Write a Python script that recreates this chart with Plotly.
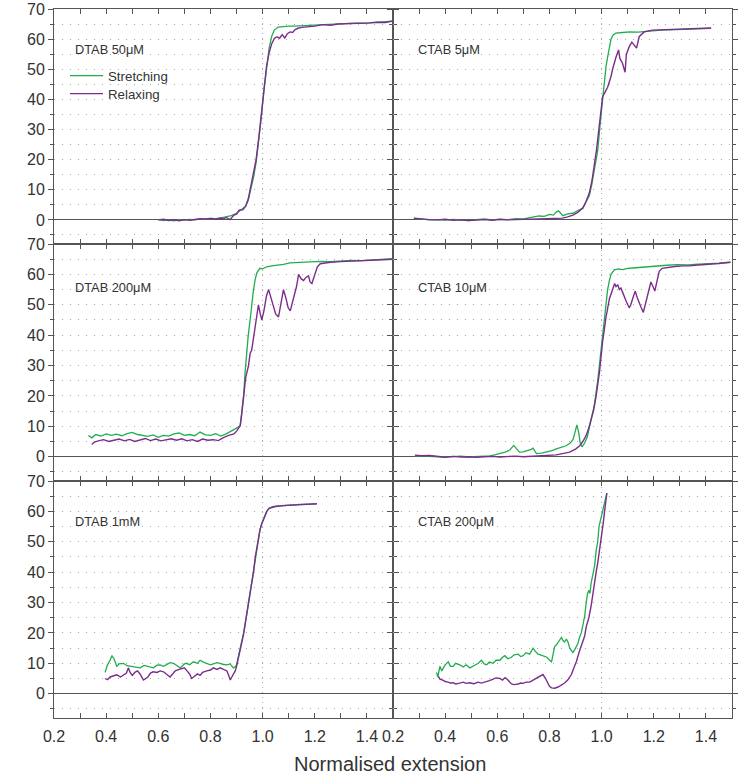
import plotly.graph_objects as go
from plotly.subplots import make_subplots

# ---------------- data ----------------
panel_labels = ["DTAB 50μM", "CTAB 5μM", "DTAB 200μM", "CTAB 10μM", "DTAB 1mM", "CTAB 200μM"]
series_names = ["Stretching", "Relaxing"]
x_tick_vals = [0.2, 0.4, 0.6, 0.8, 1.0, 1.2, 1.4]
x_tick_text = ["0.2", "0.4", "0.6", "0.8", "1.0", "1.2", "1.4"]
x_minor_vals = [0.3, 0.5, 0.7, 0.9, 1.1, 1.3, 1.5]
y_tick_vals = [0, 10, 20, 30, 40, 50, 60, 70]
y_tick_text = ["0", "10", "20", "30", "40", "50", "60", "70"]
y_minor_vals = [-5, 5, 15, 25, 35, 45, 55, 65]
x_title = "Normalised extension"

# DTAB 50 uM
dtab50_str_x = [0.60, 0.62, 0.64, 0.66, 0.68, 0.70, 0.72, 0.74, 0.76, 0.78,
                0.80, 0.82, 0.84, 0.86, 0.88, 0.90, 0.92, 0.935, 0.945, 0.955,
                0.965, 0.975, 0.985, 0.995, 1.005, 1.015, 1.025, 1.035, 1.045, 1.06,
                1.08, 1.10, 1.12, 1.14, 1.16, 1.18, 1.21, 1.24, 1.27, 1.30,
                1.33, 1.36, 1.39, 1.42, 1.45, 1.48, 1.50]
dtab50_str_y = [0.1, -0.2, 0.0, -0.3, 0.1, -0.1, 0.2, 0.0, 0.3, 0.2,
                0.5, 0.4, 0.7, 1.0, 1.4, 2.2, 3.4, 4.5, 6.5, 10,
                14, 19, 26, 34, 43, 51, 57, 61, 63.0, 64.0,
                64.2, 64.3, 64.3, 64.4, 64.4, 64.5, 64.6, 64.9, 65.1, 65.0,
                65.2, 65.3, 65.2, 65.5, 65.6, 65.7, 66.0]
dtab50_rel_x = [0.60, 0.62, 0.64, 0.66, 0.68, 0.70, 0.72, 0.74, 0.76, 0.78,
                0.80, 0.82, 0.84, 0.85, 0.86, 0.875, 0.89, 0.90, 0.91, 0.925,
                0.935, 0.945, 0.955, 0.965, 0.975, 0.985, 0.995, 1.005, 1.015, 1.025,
                1.035, 1.045, 1.055, 1.065, 1.075, 1.085, 1.095, 1.105, 1.115, 1.125,
                1.135, 1.15, 1.17, 1.20, 1.23, 1.26, 1.29, 1.32, 1.35, 1.38,
                1.41, 1.44, 1.47, 1.50]
dtab50_rel_y = [0.0, 0.2, -0.2, 0.0, -0.3, 0.1, -0.1, 0.2, 0.4, 0.3,
                0.5, 0.2, 0.6, 0.3, 0.8, 0.1, 1.6, 1.9, 3.2, 3.4,
                4.6, 7, 11, 15, 20, 27, 35, 44, 51, 55.5,
                58.5, 60.2, 60.8, 60.3, 61.5, 60.4, 61.8, 62.4, 62.2, 63.2,
                63.6, 63.9, 64.0, 64.3, 64.8, 64.6, 65.0, 65.1, 65.0, 65.3,
                65.4, 65.6, 65.5, 66.0]

# CTAB 5 uM
ctab5_str_x = [0.28, 0.31, 0.34, 0.37, 0.40, 0.43, 0.46, 0.49, 0.52, 0.55,
               0.58, 0.61, 0.64, 0.67, 0.70, 0.72, 0.74, 0.76, 0.78, 0.80,
               0.815, 0.826, 0.835, 0.851, 0.87, 0.89, 0.91, 0.928, 0.94, 0.953,
               0.963, 0.972, 0.985, 0.998, 1.005, 1.011, 1.017, 1.023, 1.03, 1.036,
               1.045, 1.055, 1.08, 1.11, 1.14, 1.17, 1.20, 1.23, 1.26, 1.29,
               1.32, 1.35, 1.38, 1.41, 1.42]
ctab5_str_y = [0.5, 0.2, 0.0, 0.1, -0.1, 0.2, 0.0, -0.2, 0.1, 0.3,
               0.0, 0.2, 0.1, 0.4, 0.3, 0.6, 0.9, 1.3, 1.2, 1.8,
               1.6, 2.6, 3.0, 1.4, 2.0, 2.2, 3.2, 3.8, 6, 8,
               12, 16, 23, 35, 41, 47, 51, 54, 57, 60,
               61.5, 62, 62.2, 62.4, 62.3, 62.6, 62.8, 63.0, 63.1, 63.2,
               63.3, 63.4, 63.5, 63.6, 63.6]
ctab5_rel_x = [0.28, 0.31, 0.34, 0.37, 0.40, 0.43, 0.46, 0.49, 0.52, 0.55,
               0.58, 0.61, 0.64, 0.67, 0.70, 0.73, 0.76, 0.79, 0.82, 0.85,
               0.87, 0.89, 0.91, 0.928, 0.94, 0.953, 0.963, 0.972, 0.98, 0.988,
               0.995, 1.004, 1.011, 1.023, 1.036, 1.042, 1.055, 1.065, 1.07, 1.08,
               1.09, 1.095, 1.106, 1.116, 1.125, 1.134, 1.144, 1.163, 1.195, 1.23,
               1.26, 1.29, 1.32, 1.35, 1.38, 1.41, 1.42]
ctab5_rel_y = [0.6, 0.3, 0.1, 0.0, 0.2, -0.1, 0.0, -0.2, 0.0, 0.1,
               -0.1, 0.2, 0.0, 0.1, 0.2, 0.1, 0.3, 0.4, 0.5, 0.6,
               1.0, 1.6, 2.6, 4, 6, 9, 13, 18, 23, 29,
               35, 41, 42, 44, 47.6, 50, 54, 56.4, 53.6, 52,
               49, 55, 57.5, 59, 58, 57, 60.8, 62.4, 63, 63.1,
               63.2, 63.3, 63.4, 63.4, 63.5, 63.6, 63.7]

# DTAB 200 uM
dtab200_str_x = [0.332, 0.345, 0.36, 0.38, 0.40, 0.42, 0.44, 0.46, 0.48, 0.50,
                 0.52, 0.54, 0.56, 0.58, 0.60, 0.62, 0.64, 0.66, 0.68, 0.70,
                 0.72, 0.74, 0.76, 0.78, 0.80, 0.82, 0.84, 0.86, 0.876, 0.888,
                 0.90, 0.914, 0.92, 0.927, 0.933, 0.939, 0.945, 0.952, 0.958, 0.965,
                 0.972, 0.978, 0.985, 0.99, 1.00, 1.016, 1.035, 1.054, 1.08, 1.105,
                 1.13, 1.16, 1.19, 1.22, 1.26, 1.30, 1.34, 1.38, 1.42, 1.46,
                 1.50]
dtab200_str_y = [7.0, 6.2, 7.3, 6.8, 7.5, 7.0, 7.4, 6.9, 7.6, 8.0,
                 7.3, 7.0, 6.7, 7.2, 6.4, 7.0, 6.8, 7.5, 7.8, 7.0,
                 7.3, 6.9, 8.1, 7.2, 7.0, 7.6, 6.8, 7.5, 8.2, 9.0,
                 9.4, 10.2, 14, 20, 28, 35, 40, 45, 50, 55,
                 58.5, 60.5, 61.5, 62.0, 61.8, 62.5, 62.8, 63.0, 63.3, 63.8,
                 63.9, 64.0, 64.1, 64.3, 64.2, 64.4, 64.6, 64.5, 64.8, 65.0,
                 65.2]
dtab200_rel_x = [0.345, 0.355, 0.37, 0.39, 0.41, 0.43, 0.45, 0.47, 0.49, 0.51,
                 0.53, 0.55, 0.57, 0.59, 0.61, 0.63, 0.65, 0.67, 0.69, 0.71,
                 0.73, 0.75, 0.77, 0.79, 0.81, 0.83, 0.85, 0.87, 0.89, 0.901,
                 0.914, 0.92, 0.927, 0.935, 0.946, 0.952, 0.958, 0.965, 0.971, 0.978,
                 0.984, 0.991, 0.997, 1.005, 1.015, 1.023, 1.032, 1.042, 1.05, 1.061,
                 1.07, 1.08, 1.09, 1.098, 1.106, 1.112, 1.119, 1.13, 1.138, 1.148,
                 1.157, 1.166, 1.176, 1.182, 1.189, 1.20, 1.21, 1.221, 1.24, 1.26,
                 1.30, 1.34, 1.38, 1.42, 1.46, 1.50]
dtab200_rel_y = [4.0, 4.8, 5.2, 5.6, 5.0, 5.4, 5.8, 5.2, 5.7, 5.0,
                 5.5, 6.0, 5.3, 5.8, 5.2, 5.5, 5.9, 5.4, 5.9, 5.2,
                 5.6, 5.0, 5.8, 5.4, 5.6, 5.3, 6.3, 7.0, 7.5, 8.5,
                 10.2, 14, 20, 26, 30, 34, 35, 39, 41, 46,
                 50, 47, 45, 48, 53, 55, 52, 49, 47, 46,
                 50, 55, 52, 49, 48, 50, 52, 56, 60, 58.5,
                 58, 59, 59.5, 57.5, 57, 60, 62.5, 63.5, 63.8, 64.0,
                 64.2, 64.3, 64.4, 64.6, 64.8, 65.0]

# CTAB 10 uM
ctab10_str_x = [0.284, 0.31, 0.34, 0.37, 0.40, 0.43, 0.46, 0.49, 0.52, 0.55,
                0.571, 0.59, 0.609, 0.63, 0.648, 0.663, 0.675, 0.685, 0.699, 0.715,
                0.73, 0.737, 0.75, 0.77, 0.79, 0.81, 0.826, 0.845, 0.864, 0.88,
                0.89, 0.898, 0.905, 0.912, 0.918, 0.925, 0.935, 0.945, 0.953, 0.963,
                0.972, 0.985, 0.998, 1.004, 1.011, 1.017, 1.023, 1.03, 1.036, 1.049,
                1.065, 1.081, 1.10, 1.12, 1.144, 1.17, 1.19, 1.21, 1.25, 1.29,
                1.33, 1.37, 1.41, 1.45, 1.494]
ctab10_str_y = [0.3, 0.2, 0.0, 0.1, -0.1, 0.0, 0.2, -0.1, 0.0, 0.2,
                0.3, 0.6, 1.0, 1.5, 2.2, 3.7, 2.5, 1.5, 1.6, 2.0,
                2.4, 2.8, 1.0, 1.2, 1.6, 2.0, 2.6, 3.0, 3.6, 4.5,
                5.6, 8, 10.5, 8, 4.5, 3.2, 4.5, 6.5, 9.5, 13,
                17, 25, 36, 41, 46, 51, 55, 58, 60, 61.5,
                61.8, 61.6, 62.0, 62.1, 62.3, 62.5, 62.6, 62.9, 63.0, 63.2,
                63.1, 63.4, 63.5, 63.7, 64.0]
ctab10_rel_x = [0.284, 0.31, 0.34, 0.37, 0.40, 0.43, 0.46, 0.49, 0.52, 0.55,
                0.58, 0.61, 0.64, 0.67, 0.70, 0.73, 0.763, 0.79, 0.826, 0.85,
                0.877, 0.90, 0.915, 0.928, 0.941, 0.951, 0.960, 0.970, 0.979, 0.992,
                1.004, 1.017, 1.03, 1.042, 1.05, 1.055, 1.062, 1.068, 1.074, 1.081,
                1.087, 1.095, 1.106, 1.112, 1.119, 1.129, 1.136, 1.142, 1.152, 1.16,
                1.168, 1.176, 1.183, 1.189, 1.197, 1.204, 1.213, 1.221, 1.232, 1.25,
                1.28, 1.31, 1.335, 1.37, 1.41, 1.45, 1.494]
ctab10_rel_y = [0.5, 0.3, 0.4, 0.1, -0.2, 0.1, -0.1, 0.0, -0.2, 0.0,
                0.1, -0.1, 0.0, 0.2, 0.0, 0.1, 0.3, 0.3, 0.6, 1.0,
                1.5, 2.5, 3.5, 5, 7, 9.5, 12, 15.5, 20, 28,
                38, 46, 52, 55, 57, 56, 56.5, 55, 55.5, 54,
                52.5, 51, 49, 50, 52, 54.5, 52.5, 51, 49, 47.5,
                50, 53, 55.5, 57.5, 56, 54.5, 58, 61, 62, 62.3,
                62.6, 62.8, 62.8, 63.1, 63.3, 63.6, 64.0]

# DTAB 1 mM
dtab1m_str_x = [0.396, 0.405, 0.415, 0.422, 0.43, 0.441, 0.45, 0.466, 0.48, 0.492,
                0.51, 0.53, 0.545, 0.556, 0.57, 0.581, 0.595, 0.607, 0.62, 0.632,
                0.645, 0.658, 0.67, 0.684, 0.70, 0.709, 0.72, 0.735, 0.75, 0.76,
                0.775, 0.786, 0.80, 0.811, 0.825, 0.837, 0.85, 0.863, 0.875, 0.888,
                0.895, 0.90, 0.907, 0.917, 0.927, 0.937, 0.946, 0.955, 0.965, 0.972,
                0.978, 0.985, 0.99, 0.997, 1.003, 1.01, 1.016, 1.025, 1.035, 1.05,
                1.08, 1.11, 1.144, 1.17, 1.19, 1.208]
dtab1m_str_y = [7.0, 9.5, 11.0, 12.5, 11.5, 9.0, 9.8, 10.0, 9.2, 9.0,
                8.6, 8.5, 9.3, 9.0, 8.8, 8.5, 9.4, 9.5, 9.0, 9.6,
                10.2, 10.0, 9.2, 8.5, 9.8, 10.0, 9.5, 10.5, 10.0, 11.0,
                10.3, 10.0, 9.5, 9.8, 10.2, 10.0, 9.6, 9.5, 9.8, 8.5,
                8.8, 9.5, 12, 16, 20, 25, 30, 35, 40, 45,
                48, 52, 54, 56, 57.5, 59, 60, 61, 61.5, 61.7,
                62.0, 62.1, 62.3, 62.4, 62.5, 62.5]
dtab1m_rel_x = [0.396, 0.405, 0.415, 0.43, 0.441, 0.455, 0.466, 0.478, 0.485, 0.492,
                0.50, 0.51, 0.52, 0.53, 0.543, 0.55, 0.56, 0.57, 0.58, 0.595,
                0.607, 0.62, 0.632, 0.645, 0.655, 0.665, 0.68, 0.69, 0.70, 0.71,
                0.72, 0.728, 0.74, 0.75, 0.76, 0.77, 0.786, 0.80, 0.811, 0.825,
                0.837, 0.85, 0.863, 0.87, 0.876, 0.882, 0.888, 0.895, 0.90, 0.907,
                0.917, 0.927, 0.937, 0.946, 0.955, 0.965, 0.972, 0.978, 0.985, 0.99,
                0.997, 1.003, 1.01, 1.016, 1.025, 1.035, 1.05, 1.08, 1.11, 1.144,
                1.17, 1.19, 1.208]
dtab1m_rel_y = [5.0, 4.6, 5.5, 6.0, 6.2, 5.5, 6.0, 6.8, 8.5, 7.0,
                6.0, 7.0, 7.5, 6.5, 4.5, 5.0, 5.5, 6.8, 7.2, 7.0,
                7.5, 7.2, 6.5, 5.5, 6.5, 7.5, 8.0, 8.2, 8.5, 7.5,
                6.5, 5.0, 5.8, 6.5, 6.0, 7.0, 7.5, 7.8, 8.5, 8.0,
                8.5, 8.0, 7.5, 6.0, 4.5, 5.5, 6.5, 7.5, 9.0, 11.5,
                15.5, 19.5, 25, 29.5, 35, 40, 45, 48, 52, 54,
                56, 57.5, 59, 60, 61, 61.3, 61.6, 61.9, 62.0, 62.2,
                62.4, 62.4, 62.5]

# CTAB 200 uM
ctab200_str_x = [0.367, 0.372, 0.38, 0.387, 0.393, 0.40, 0.412, 0.42, 0.431, 0.44,
                 0.456, 0.47, 0.48, 0.495, 0.51, 0.527, 0.539, 0.55, 0.559, 0.57,
                 0.584, 0.595, 0.61, 0.62, 0.629, 0.64, 0.654, 0.665, 0.68, 0.69,
                 0.699, 0.71, 0.724, 0.737, 0.745, 0.756, 0.765, 0.775, 0.79, 0.801,
                 0.808, 0.814, 0.82, 0.826, 0.833, 0.84, 0.846, 0.852, 0.858, 0.865,
                 0.871, 0.878, 0.884, 0.89, 0.897, 0.903, 0.909, 0.915, 0.922, 0.928,
                 0.935, 0.941, 0.946, 0.951, 0.955, 0.960, 0.966, 0.973, 0.979, 0.985,
                 0.99, 0.998, 1.005, 1.011, 1.016, 1.020]
ctab200_str_y = [7.0, 5.5, 9.0, 7.5, 8.5, 9.5, 10.5, 9.0, 9.0, 10.0,
                 9.5, 8.8, 9.5, 8.5, 9.2, 10.0, 11.0, 9.8, 9.5, 10.4,
                 10.0, 11.0, 11.0, 12.0, 12.5, 11.5, 12.0, 12.8, 13.0, 12.2,
                 12.5, 13.5, 13.0, 15.0, 14.0, 13.0, 12.8, 12.5, 12.0, 11.0,
                 10.5, 13.0, 15.5, 16.0, 17.0, 18.0, 18.5, 17.5, 17.0, 18.0,
                 17.0, 15.0, 14.0, 13.5, 14.5, 15.5, 16.5, 18.5, 20.0, 22.5,
                 25.5, 30, 33, 34, 33, 36.5, 39, 42, 47, 50,
                 55, 58, 60.5, 62.5, 64.5, 66.0]
ctab200_rel_x = [0.374, 0.38, 0.393, 0.40, 0.412, 0.42, 0.431, 0.44, 0.456, 0.47,
                 0.48, 0.495, 0.51, 0.527, 0.539, 0.55, 0.559, 0.57, 0.584, 0.595,
                 0.61, 0.62, 0.63, 0.64, 0.654, 0.665, 0.68, 0.69, 0.699, 0.71,
                 0.724, 0.737, 0.75, 0.762, 0.775, 0.785, 0.792, 0.80, 0.808, 0.82,
                 0.833, 0.846, 0.858, 0.87, 0.878, 0.884, 0.896, 0.903, 0.915, 0.922,
                 0.935, 0.941, 0.951, 0.96, 0.966, 0.973, 0.979, 0.985, 0.992, 0.998,
                 1.006, 1.011, 1.016, 1.020]
ctab200_rel_y = [5.7, 4.8, 4.4, 4.0, 3.8, 3.5, 3.6, 3.2, 3.5, 3.8,
                 3.4, 3.6, 3.3, 3.8, 3.5, 3.7, 4.0, 4.3, 4.8, 5.2,
                 5.0, 4.5, 5.3, 4.6, 3.2, 3.0, 3.2, 3.5, 3.4, 3.8,
                 3.8, 4.4, 5.0, 5.8, 6.3, 5.0, 3.5, 2.4, 1.9, 1.8,
                 2.2, 2.8, 3.5, 4.5, 5.5, 6.3, 9.0, 10.5, 14, 15.6,
                 19, 22, 25, 29, 33, 36, 40, 43, 47, 52,
                 56, 59.7, 63, 66.0]

panels = [
    (dtab50_str_x, dtab50_str_y, dtab50_rel_x, dtab50_rel_y),
    (ctab5_str_x, ctab5_str_y, ctab5_rel_x, ctab5_rel_y),
    (dtab200_str_x, dtab200_str_y, dtab200_rel_x, dtab200_rel_y),
    (ctab10_str_x, ctab10_str_y, ctab10_rel_x, ctab10_rel_y),
    (dtab1m_str_x, dtab1m_str_y, dtab1m_rel_x, dtab1m_rel_y),
    (ctab200_str_x, ctab200_str_y, ctab200_rel_x, ctab200_rel_y),
]

# ---------------- style ----------------
W, H = 738, 776
GREEN = "#1fae4e"
PURPLE = "#7c2d8c"
AXIS = "#555555"
GRID = "#a8a8a8"
TXT = "#333333"
FONT = "Liberation Sans, Arial, Helvetica, sans-serif"

col_px = [(54, 393), (393, 732)]
row_px = [(9, 244), (244, 481), (481, 718)]

fig = make_subplots(rows=3, cols=2, horizontal_spacing=0, vertical_spacing=0)

for i, (sx, sy, rx, ry) in enumerate(panels):
    r, c = i // 2 + 1, i % 2 + 1
    fig.add_trace(go.Scatter(x=sx, y=sy, mode="lines", name=series_names[0],
                             line=dict(color=GREEN, width=1.3), legend="legend",
                             legendgroup="s", showlegend=(i == 0)), row=r, col=c)
    fig.add_trace(go.Scatter(x=rx, y=ry, mode="lines", name=series_names[1],
                             line=dict(color=PURPLE, width=1.4), legend="legend2",
                             legendgroup="r", showlegend=(i == 0)), row=r, col=c)
    x0, x1 = col_px[c - 1]
    y0, y1 = row_px[r - 1]
    fig.update_xaxes(
        domain=[x0 / W, x1 / W], range=[0.2, 1.5], automargin=False,
        tickvals=x_tick_vals, ticktext=x_tick_text,
        ticks="inside", ticklen=5, tickcolor=AXIS, tickwidth=1,
        minor=dict(tickvals=x_minor_vals, ticks="inside", ticklen=5, tickcolor=AXIS, showgrid=False),
        showline=True, linecolor=AXIS, linewidth=1, mirror="ticks",
        showgrid=False, zeroline=False,
        showticklabels=(r == 3), ticklabelstandoff=4,
        tickfont=dict(family=FONT, size=16, color=TXT),
        row=r, col=c)
    fig.update_yaxes(
        domain=[1 - y1 / H, 1 - y0 / H], range=[-8, 70], automargin=False,
        tickvals=y_tick_vals, ticktext=y_tick_text,
        ticks="outside", ticklen=5, tickcolor=AXIS, tickwidth=1,
        minor=dict(tickvals=y_minor_vals, ticks="outside", ticklen=3, tickcolor=AXIS,
                   showgrid=True, gridcolor=GRID, gridwidth=1, griddash="1px,7px"),
        showline=True, linecolor=AXIS, linewidth=1, mirror="ticks",
        showgrid=True, gridcolor=GRID, gridwidth=1, griddash="1px,7px",
        zeroline=True, zerolinecolor=AXIS, zerolinewidth=1,
        showticklabels=(c == 1),
        tickfont=dict(family=FONT, size=16, color=TXT),
        row=r, col=c)
    fig.add_vline(x=1.0, line=dict(color=GRID, width=1, dash="1px,4px"), layer="below", row=r, col=c)

# panel labels
label_pos = [(73, 49), (416, 49), (73, 287), (416, 287), (73, 521), (416, 521)]
for txt, (px, py) in zip(panel_labels, label_pos):
    fig.add_annotation(text=txt, x=px / W, y=1 - py / H, xref="paper", yref="paper",
                       xanchor="left", yanchor="middle", showarrow=False,
                       font=dict(family=FONT, size=12.8, color=TXT))

fig.add_annotation(text=x_title, x=390 / W, y=1 - 764 / H, xref="paper", yref="paper",
                   xanchor="center", yanchor="middle", showarrow=False,
                   font=dict(family=FONT, size=20, color=TXT))

legend_common = dict(xanchor="left", yanchor="middle", bgcolor="rgba(0,0,0,0)",
                     font=dict(family=FONT, size=13.3, color=TXT), itemwidth=33)
fig.update_layout(
    width=W, height=H, margin=dict(l=0, r=0, t=0, b=0, autoexpand=False),
    paper_bgcolor="white", plot_bgcolor="white",
    font=dict(family=FONT, color=TXT),
    legend=dict(x=65 / W, y=1 - 76 / H, **legend_common),
    legend2=dict(x=65 / W, y=1 - 94 / H, **legend_common),
)

fig.write_html("out.html")
